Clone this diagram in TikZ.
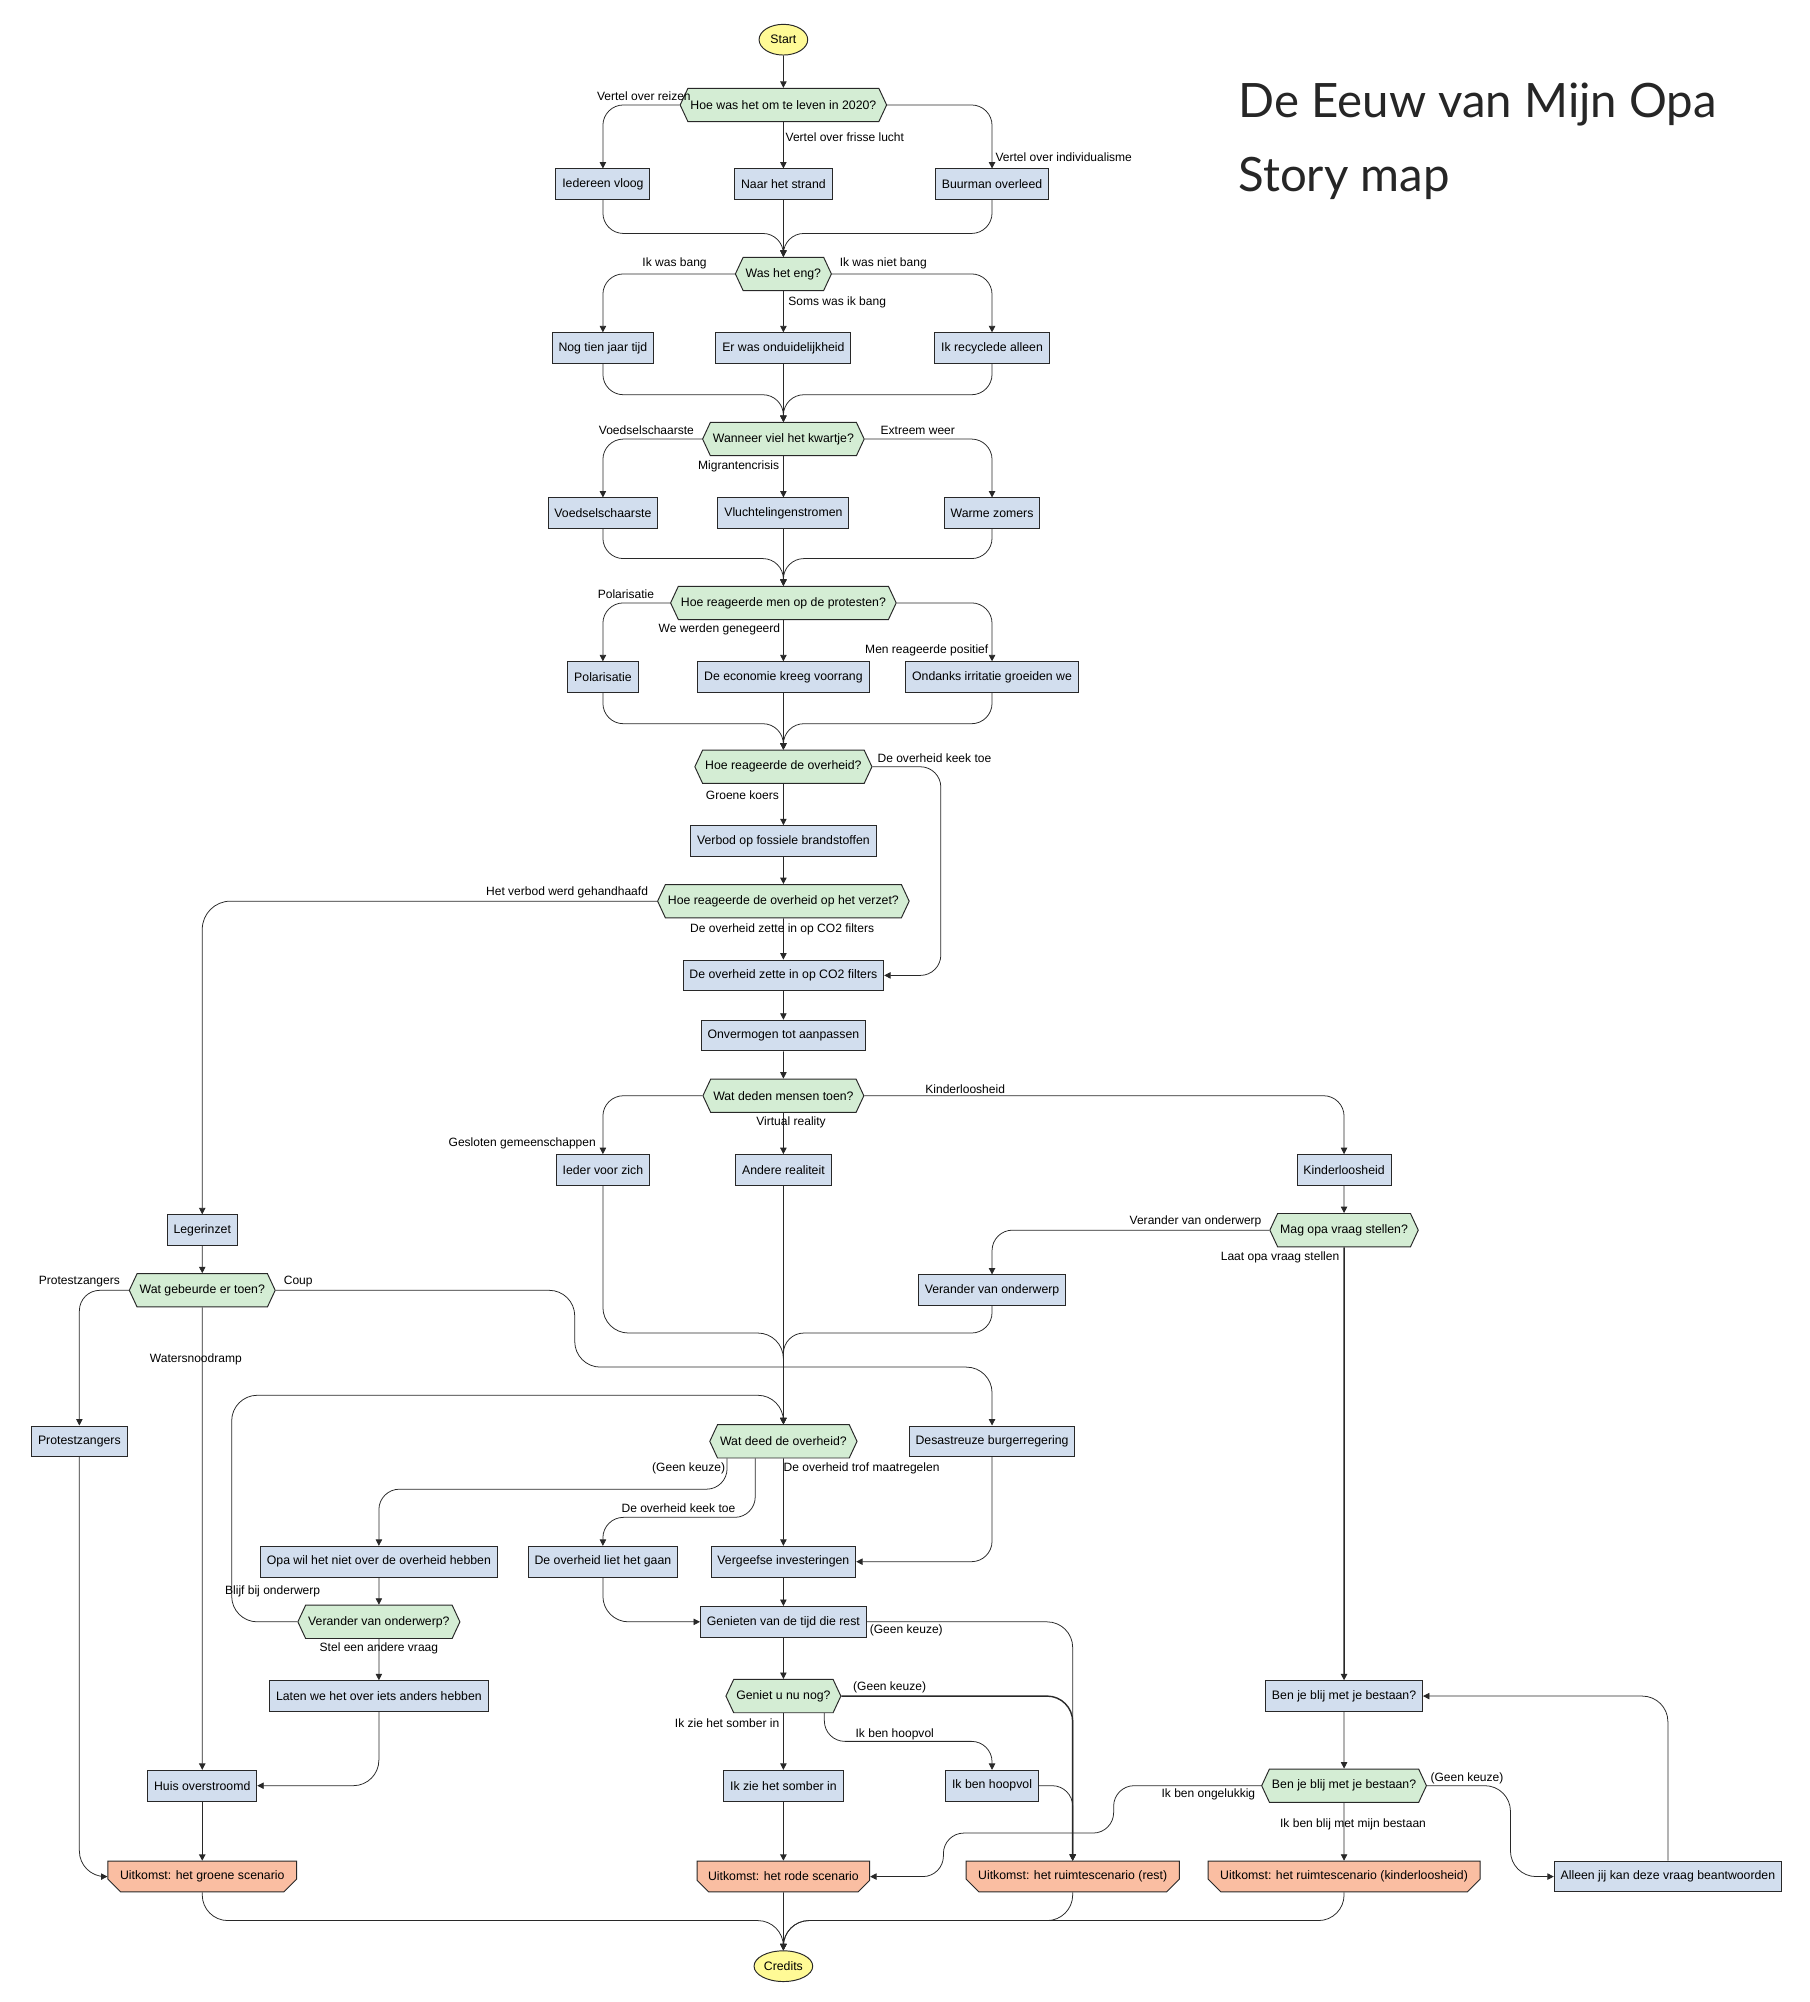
\documentclass[tikz,border=0pt]{standalone}
\usepackage{fontspec}
\setmainfont{Liberation Sans}
\newfontfamily\titlefont{Lato}
\usetikzlibrary{shapes.geometric,shapes.symbols,shapes.misc,arrows.meta,calc}
\definecolor{boxblue}{RGB}{210,222,238}
\definecolor{hexgreen}{RGB}{212,237,212}
\definecolor{outorange}{RGB}{250,190,162}
\definecolor{termyellow}{RGB}{255,250,150}
\definecolor{inkc}{RGB}{40,40,40}
\begin{document}
\begin{tikzpicture}[x=1pt,y=-1pt,
  every node/.style={font=\fontsize{9.6}{11}\selectfont, text=black},
  box/.style={draw=inkc, line width=0.75pt, fill=boxblue, rectangle, minimum height=24pt, inner xsep=5pt, inner ysep=2pt},
  hex/.style={draw=inkc, line width=0.75pt, fill=hexgreen, signal, signal to=west and east, signal pointer angle=130, minimum height=26pt, inner xsep=2pt, inner ysep=2pt},
  outc/.style={draw=inkc, line width=0.75pt, fill=outorange, chamfered rectangle, chamfered rectangle corners={south west,south east}, chamfered rectangle xsep=7pt, minimum height=24pt, inner xsep=3pt, inner ysep=2pt},
  term/.style={draw=inkc, line width=0.75pt, fill=termyellow, ellipse, minimum width=38pt, minimum height=24pt, inner sep=1pt},
  conn/.style={draw=inkc, line width=0.6pt, rounded corners=16pt, -{Triangle[length=5pt,width=5pt]}},
  heavy/.style={line width=1.1pt},
  lbl/.style={inner sep=1pt, font=\fontsize{9.4}{11}\selectfont}
]
\fill[white] (0,0) rectangle (1414,1564);
\useasboundingbox (0,0) rectangle (1414,1564);

% title
\node[anchor=west, font=\titlefont\fontsize{37}{44}\selectfont, text=black!85] (title1) at (964,82) {De Eeuw van Mijn Opa};
\node[anchor=west, font=\titlefont\fontsize{37}{44}\selectfont, text=black!85] (title2) at (964,139) {Story map};

% nodes
\node[term] (start) at (612,31) {Start};
\node[hex] (q1) at (612,82) {Hoe was het om te leven in 2020?};
\node[box] (vloog) at (471,144) {Iedereen vloog};
\node[box] (strand) at (612,144) {Naar het strand};
\node[box] (buur) at (775,144) {Buurman overleed};
\node[hex] (q2) at (612,214) {Was het eng?};
\node[box] (tien) at (471,272) {Nog tien jaar tijd};
\node[box] (ondu) at (612,272) {Er was onduidelijkheid};
\node[box] (recy) at (775,272) {Ik recyclede alleen};
\node[hex] (q3) at (612,343) {Wanneer viel het kwartje?};
\node[box] (voed) at (471,401) {Voedselschaarste};
\node[box] (vlucht) at (612,401) {Vluchtelingenstromen};
\node[box] (warm) at (775,401) {Warme zomers};
\node[hex] (q4) at (612,471) {Hoe reageerde men op de protesten?};
\node[box] (pol) at (471,529) {Polarisatie};
\node[box] (econ) at (612,529) {De economie kreeg voorrang};
\node[box] (ondanks) at (775,529) {Ondanks irritatie groeiden we};
\node[hex] (q5) at (612,599) {Hoe reageerde de overheid?};
\node[box] (verbod) at (612,657) {Verbod op fossiele brandstoffen};
\node[hex] (q6) at (612,704) {Hoe reageerde de overheid op het verzet?};
\node[box] (co2) at (612,762) {De overheid zette in op CO2 filters};
\node[box] (onverm) at (612,809) {Onvermogen tot aanpassen};
\node[hex] (q7) at (612,856) {Wat deden mensen toen?};
\node[box] (ieder) at (471,914) {Ieder voor zich};
\node[box] (andere) at (612,914) {Andere realiteit};
\node[box] (kinder) at (1050,914) {Kinderloosheid};
\node[box] (leger) at (158,961) {Legerinzet};
\node[hex] (q8) at (1050,961) {Mag opa vraag stellen?};
\node[hex] (q9) at (158,1008) {Wat gebeurde er toen?};
\node[box] (verander) at (775,1008) {Verander van onderwerp};
\node[box] (protest) at (62,1126) {Protestzangers};
\node[hex] (q10) at (612,1126) {Wat deed de overheid?};
\node[box] (desas) at (775,1126) {Desastreuze burgerregering};
\node[box] (opa) at (296,1220) {Opa wil het niet over de overheid hebben};
\node[box] (liet) at (471,1220) {De overheid liet het gaan};
\node[box] (vergeefs) at (612,1220) {Vergeefse investeringen};
\node[hex] (q11) at (296,1267) {Verander van onderwerp?};
\node[box] (genieten) at (612,1267) {Genieten van de tijd die rest};
\node[box] (benbox) at (1050,1325) {Ben je blij met je bestaan?};
\node[hex] (q12) at (612,1325) {Geniet u nu nog?};
\node[box] (laten) at (296,1325) {Laten we het over iets anders hebben};
\node[box] (huis) at (158,1395) {Huis overstroomd};
\node[box] (somber) at (612,1395) {Ik zie het somber in};
\node[box] (hoop) at (775,1395) {Ik ben hoopvol};
\node[hex] (q13) at (1050,1395) {Ben je blij met je bestaan?};
\node[outc] (groen) at (158,1466) {Uitkomst: het groene scenario};
\node[outc] (rood) at (612,1466) {Uitkomst: het rode scenario};
\node[outc] (rest) at (838,1466) {Uitkomst: het ruimtescenario (rest)};
\node[outc] (kindout) at (1050,1466) {Uitkomst: het ruimtescenario (kinderloosheid)};
\node[box] (alleen) at (1303,1466) {Alleen jij kan deze vraag beantwoorden};
\node[term] (credits) at (612,1536) {Credits};

% connectors
\draw[conn] (start) -- (q1);
\draw[conn] (q1.west) -| (vloog.north);
\draw[conn] (q1) -- (strand);
\draw[conn] (q1.east) -| (buur.north);
\draw[conn] (vloog.south) -- ++(0,26) -| (q2.north);
\draw[conn] (strand) -- (q2);
\draw[conn] (buur.south) -- ++(0,26) -| (q2.north);

\draw[conn] (q2.west) -| (tien.north);
\draw[conn] (q2) -- (ondu);
\draw[conn] (q2.east) -| (recy.north);
\draw[conn] (tien.south) -- ++(0,24) -| (q3.north);
\draw[conn] (ondu) -- (q3);
\draw[conn] (recy.south) -- ++(0,24) -| (q3.north);

\draw[conn] (q3.west) -| (voed.north);
\draw[conn] (q3) -- (vlucht);
\draw[conn] (q3.east) -| (warm.north);
\draw[conn] (voed.south) -- ++(0,23) -| (q4.north);
\draw[conn] (vlucht) -- (q4);
\draw[conn] (warm.south) -- ++(0,23) -| (q4.north);

\draw[conn] (q4.west) -| (pol.north);
\draw[conn] (q4) -- (econ);
\draw[conn] (q4.east) -| (ondanks.north);
\draw[conn] (pol.south) -- ++(0,24) -| (q5.north);
\draw[conn] (econ) -- (q5);
\draw[conn] (ondanks.south) -- ++(0,24) -| (q5.north);

\draw[conn] (q5) -- (verbod);
\draw[conn] (q5.east) -- (735,599) |- (co2.east);
\draw[conn] (verbod) -- (q6);
\draw[conn] (q6) -- (co2);
\draw[conn, rounded corners=22pt] (q6.west) -| (leger.north);
\draw[conn] (co2) -- (onverm);
\draw[conn] (onverm) -- (q7);

\draw[conn] (q7.west) -| (ieder.north);
\draw[conn] (q7) -- (andere);
\draw[conn] (q7.east) -| (kinder.north);
\draw[conn] (kinder) -- (q8);
\draw[conn] (q8.west) -| (verander.north);
\draw[conn, heavy] (q8) -- (benbox);

\draw[conn] (leger) -- (q9);
\draw[conn] (q9.west) -| (protest.north);
\draw[conn] (q9) -- (huis);
\draw[conn, rounded corners=20pt] (q9.east) -- (449,1008) -- (449,1068) -| (desas.north);

\draw[conn, rounded corners=20pt] (ieder.south) -- ++(0,115) -| (q10.north);
\draw[conn] (andere) -- (q10);
\draw[conn] (verander.south) -- ++(0,21) -| (q10.north);
\draw[conn, rounded corners=20pt] (q11.west) -- (181,1267) -- (181,1090) -| (q10.north);
\draw[conn] (desas.south) |- (vergeefs.east);

\draw[conn] ([xshift=-44pt]q10.south) -- ++(0,24) -| (opa.north);
\draw[conn] ([xshift=-22pt]q10.south) -- ++(0,46) -| (liet.north);
\draw[conn] (q10) -- (vergeefs);

\draw[conn] (opa) -- (q11);
\draw[conn] (q11) -- (laten);
\draw[conn, rounded corners=20pt] (laten.south) |- (huis.east);
\draw[conn, rounded corners=20pt] (liet.south) |- (genieten.west);
\draw[conn] (vergeefs) -- (genieten);
\draw[conn] (genieten) -- (q12);

\draw[conn, rounded corners=20pt] (genieten.east) -| (rest.north);
\draw[conn, heavy, rounded corners=20pt] (q12.east) -| (rest.north);
\draw[conn] (q12) -- (somber);
\draw[conn] ([xshift=32pt]q12.south) -- ++(0,22) -| (hoop.north);
\draw[conn] (hoop.east) -| (rest.north);
\draw[conn, heavy] (somber) -- (rood);

\draw[conn] (q13.west) -- (870,1395) -- (870,1432) -- (737,1432) |- (rood.east);
\draw[conn] (benbox) -- (q13);
\draw[conn] (q13) -- (kindout);
\draw[conn, rounded corners=20pt] (q13.east) -- (1180,1395) |- (alleen.west);
\draw[conn, rounded corners=20pt] (alleen.north) |- (benbox.east);

\draw[conn, rounded corners=20pt] (protest.south) |- (groen.west);
\draw[conn, heavy] (huis) -- (groen);
\draw[conn, rounded corners=20pt] (groen.south) -- ++(0,22) -| (credits.north);
\draw[conn] (rood) -- (credits);
\draw[conn, rounded corners=20pt] (rest.south) -- ++(0,22) -| (credits.north);
\draw[conn, rounded corners=20pt] (kindout.south) -- ++(0,22) -| (credits.north);

% connector labels
\node[lbl] (l1) at (503,75) {Vertel over reizen};
\node[lbl] (l2) at (660,107) {Vertel over frisse lucht};
\node[lbl] (l3) at (831,123) {Vertel over individualisme};
\node[lbl] (l4) at (527,206) {Ik was bang};
\node[lbl] (l5) at (690,206) {Ik was niet bang};
\node[lbl] (l6) at (654,236) {Soms was ik bang};
\node[lbl] (l7) at (505,336) {Voedselschaarste};
\node[lbl] (l8) at (577,364) {Migrantencrisis};
\node[lbl] (l9) at (717,336) {Extreem weer};
\node[lbl] (l10) at (489,464) {Polarisatie};
\node[lbl] (l11) at (562,492) {We werden genegeerd};
\node[lbl] (l12) at (724,508) {Men reageerde positief};
\node[lbl] (l13) at (730,592) {De overheid keek toe};
\node[lbl] (l14) at (580,621) {Groene koers};
\node[lbl] (l15) at (443,697) {Het verbod werd gehandhaafd};
\node[lbl] (l16) at (611,726) {De overheid zette in op CO2 filters};
\node[lbl] (l17) at (754,851) {Kinderloosheid};
\node[lbl] (l18) at (618,877) {Virtual reality};
\node[lbl] (l19) at (408,893) {Gesloten gemeenschappen};
\node[lbl] (l20) at (934,954) {Verander van onderwerp};
\node[lbl] (l21) at (1000,982) {Laat opa vraag stellen};
\node[lbl] (l22) at (62,1001) {Protestzangers};
\node[lbl] (l23) at (233,1001) {Coup};
\node[lbl] (l24) at (153,1062) {Watersnoodramp};
\node[lbl] (l25) at (538,1147) {(Geen keuze)};
\node[lbl, anchor=west] (l26) at (611,1147) {De overheid trof maatregelen};
\node[lbl] (l27) at (530,1178) {De overheid keek toe};
\node[lbl] (l28) at (213,1243) {Blijf bij onderwerp};
\node[lbl] (l29) at (296,1288) {Stel een andere vraag};
\node[lbl] (l30) at (708,1274) {(Geen keuze)};
\node[lbl] (l31) at (695,1318) {(Geen keuze)};
\node[lbl] (l32) at (568,1346) {Ik zie het somber in};
\node[lbl] (l33) at (699,1355) {Ik ben hoopvol};
\node[lbl] (l34) at (1146,1389) {(Geen keuze)};
\node[lbl] (l35) at (944,1402) {Ik ben ongelukkig};
\node[lbl] (l36) at (1057,1425) {Ik ben blij met mijn bestaan};
\end{tikzpicture}
\end{document}
